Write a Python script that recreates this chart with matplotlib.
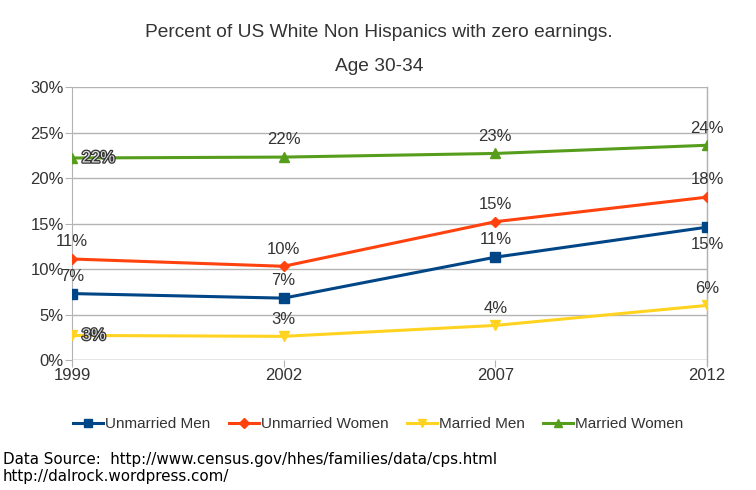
# Percent of US White Non Hispanics with zero earnings, age 30-34
import matplotlib
matplotlib.use("Agg")
import matplotlib.pyplot as plt
import matplotlib.patheffects as pe
from matplotlib.ticker import PercentFormatter

# Data
years = ["1999", "2002", "2007", "2012"]
unmarried_men = [7.3, 6.8, 11.3, 14.6]
unmarried_women = [11.1, 10.3, 15.2, 17.9]
married_men = [2.7, 2.6, 3.8, 6.0]
married_women = [22.2, 22.3, 22.7, 23.6]

series = [
    ("Unmarried Men", unmarried_men, "#004586", "s"),
    ("Unmarried Women", unmarried_women, "#ff420e", "D"),
    ("Married Men", married_men, "#ffd320", "v"),
    ("Married Women", married_women, "#579d1c", "^"),
]

plt.rcParams["font.family"] = ["Liberation Sans", "DejaVu Sans"]
text_col = "#333333"
fs = 12

fig = plt.figure(figsize=(7.56, 4.9), dpi=100)
ax = fig.add_axes([0.0952, 0.2653, 0.84, 0.5571])

x = list(range(len(years)))
for name, vals, col, mk in series:
    ms = 7 if mk in ("s", "^", "v") else 5.5
    ax.plot(x, vals, color=col, lw=2.2, marker=mk, ms=ms, label=name, zorder=3)
    for i, v in enumerate(vals):
        lbl = f"{round(v):.0f}%"
        if i == 0 and name in ("Married Men", "Married Women"):
            ax.annotate(lbl, (i, v), xytext=(7, 0), textcoords="offset points",
                        ha="left", va="center", fontsize=fs, color="#dddddd",
                        path_effects=[pe.withStroke(linewidth=1.8, foreground=text_col)],
                        zorder=5)
        elif i == 3 and name == "Unmarried Men":
            ax.annotate(lbl, (i, v), xytext=(0, -7), textcoords="offset points",
                        ha="center", va="top", fontsize=fs, color=text_col, zorder=5)
        else:
            ax.annotate(lbl, (i, v), xytext=(0, 7), textcoords="offset points",
                        ha="center", va="bottom", fontsize=fs, color=text_col, zorder=5)

ax.set_xlim(0, 3)
ax.set_ylim(0, 30)
ax.set_yticks(range(0, 31, 5))
ax.yaxis.set_major_formatter(PercentFormatter(decimals=0))
ax.set_xticks(x)
ax.set_xticklabels(years)
ax.grid(axis="y", color="#b3b3b3", lw=1)
ax.set_axisbelow(True)
ax.spines["top"].set_visible(False)
ax.spines["bottom"].set_visible(False)
for s in ("left", "right"):
    ax.spines[s].set_color("#b3b3b3")
ax.tick_params(axis="both", colors="#b3b3b3", labelcolor=text_col, labelsize=fs, length=5)
ax.tick_params(axis="x", pad=1)
ax.tick_params(axis="y", pad=1)
# right axis line extends below the plot like the original
ax.plot([3, 3], [30, -0.6], color="#b3b3b3", lw=1, clip_on=False, zorder=1)
ax.axhline(0, color="#b3b3b3", lw=1, zorder=1)

fig.text(0.501, 0.933, "Percent of US White Non Hispanics with zero earnings.",
         ha="center", va="center", fontsize=13.8, color=text_col)
fig.text(0.501, 0.865, "Age 30-34", ha="center", va="center", fontsize=13.8, color=text_col)

leg = fig.legend(loc="center", bbox_to_anchor=(0.5, 0.135), ncol=4, frameon=False,
                 fontsize=11, handlelength=2.0, handletextpad=0.1, columnspacing=1.2,
                 markerscale=0.9)
for t in leg.get_texts():
    t.set_color(text_col)

fig.text(0.004, 0.062, "Data Source:  http://www.census.gov/hhes/families/data/cps.html",
         ha="left", va="center", fontsize=10.9, family="DejaVu Sans", color="black")
fig.text(0.004, 0.027, "http://dalrock.wordpress.com/",
         ha="left", va="center", fontsize=10.9, family="DejaVu Sans", color="black")

fig.savefig("out.png", dpi=100)
